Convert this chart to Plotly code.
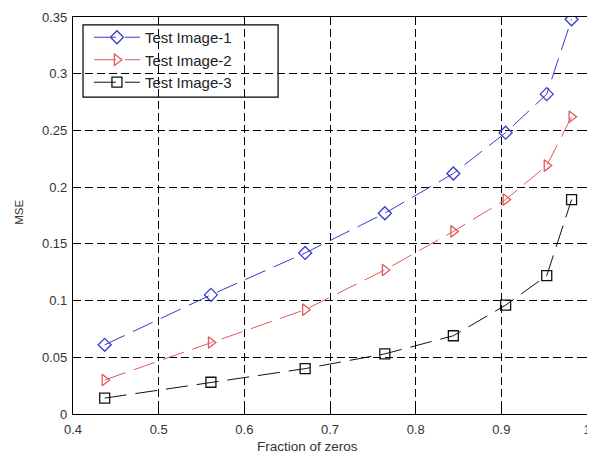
import plotly.graph_objects as go

fraction_zeros = [0.437, 0.561, 0.671, 0.764, 0.844, 0.905, 0.953, 0.982]
mse_image1 = [0.061, 0.105, 0.142, 0.177, 0.212, 0.248, 0.282, 0.348]
mse_image2 = [0.030, 0.063, 0.092, 0.127, 0.161, 0.189, 0.219, 0.262]
mse_image3 = [0.014, 0.028, 0.040, 0.053, 0.069, 0.096, 0.122, 0.189]
series_names = ["Test Image-1", "Test Image-2", "Test Image-3"]

x_ticks = [0.4, 0.5, 0.6, 0.7, 0.8, 0.9, 1.0]
x_ticklabels = ["0.4", "0.5", "0.6", "0.7", "0.8", "0.9", "1"]
y_ticks = [0, 0.05, 0.1, 0.15, 0.2, 0.25, 0.3, 0.35]
y_ticklabels = ["0", "0.05", "0.1", "0.15", "0.2", "0.25", "0.3", "0.35"]
x_title = "Fraction of zeros"
y_title = "MSE"

styles = [
    dict(color="#3a3acc", symbol="diamond-open"),
    dict(color="#e05a5a", symbol="triangle-right-open"),
    dict(color="#111111", symbol="square-open"),
]

FONT = "Liberation Sans, Arial"

fig = go.Figure()
for name, ys, st in zip(series_names, [mse_image1, mse_image2, mse_image3], styles):
    fig.add_trace(go.Scatter(
        x=fraction_zeros, y=ys, name=name, mode="lines+markers",
        line=dict(color=st["color"], width=1, dash="22px,9px"),
        marker=dict(symbol=st["symbol"], size=10, color=st["color"],
                    line=dict(width=1.3, color=st["color"])),
    ))

axis_common = dict(
    showline=True, linecolor="black", linewidth=1.2, mirror="ticks",
    ticks="inside", ticklen=5, tickcolor="black",
    showgrid=True, gridcolor="black", gridwidth=1, griddash="8px,4px",
    zeroline=False, automargin=False,
    tickfont=dict(family=FONT, size=13, color="#333333"),
)

fig.update_xaxes(range=[0.4, 1.0], tickvals=x_ticks, ticktext=x_ticklabels,
                 ticklabelstandoff=3, **axis_common)
fig.update_yaxes(range=[0, 0.35], tickvals=y_ticks, ticktext=y_ticklabels,
                 ticklabelstandoff=2, **axis_common)

# legend frame (drawn above gridlines, below traces)
fig.add_shape(type="rect", xref="paper", yref="paper",
              x0=0.0195, x1=0.399, y0=0.798, y1=0.980,
              fillcolor="white", line=dict(color="black", width=1.2),
              layer="between")

fig.add_annotation(text=x_title, xref="paper", yref="paper",
                   x=0.457, y=-0.083, xanchor="center", yanchor="middle",
                   showarrow=False, font=dict(family=FONT, size=13.5, color="#333333"))
fig.add_annotation(text=y_title, xref="paper", yref="paper",
                   x=-0.104, y=0.508, xanchor="center", yanchor="middle",
                   textangle=-90, showarrow=False,
                   font=dict(family=FONT, size=11.5, color="#333333"))

fig.update_layout(
    width=587, height=452,
    margin=dict(l=65, r=8, t=9, b=46),
    paper_bgcolor="white", plot_bgcolor="white",
    showlegend=True,
    legend=dict(x=0.031, y=0.99, xanchor="left", yanchor="top",
                bgcolor="rgba(0,0,0,0)", borderwidth=0,
                font=dict(family=FONT, size=15, color="#222222"),
                tracegroupgap=0, itemwidth=46),
)

fig.write_html("out.html")
